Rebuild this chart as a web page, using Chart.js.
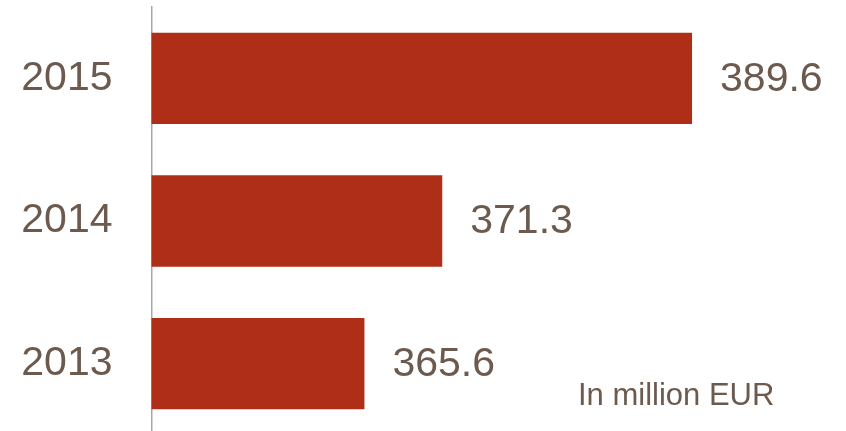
<!DOCTYPE html>
<html>
<head>
<meta charset="utf-8">
<script src="https://cdn.jsdelivr.net/npm/chart.js@4"></script>
<style>
  body { margin: 0; background: #fff; overflow: hidden; }
  /* plot runs slightly past the bottom edge, like the original */
  #wrap { width: 846px; height: 435px; position: relative; }
</style>
</head>
<body>
<div id="wrap"><canvas id="revChart"></canvas></div>
<script>
// revenue per year, top to bottom as in the picture
const years = ['2015', '2014', '2013'];
const revenue = [389.6, 371.3, 365.6];
const unitNote = 'In million EUR';

const textColor = '#6b5a4d';
const fontFamily = '"Liberation Sans", Arial, sans-serif';

// value labels next to each bar + the unit note
const valueLabels = {
  id: 'valueLabels',
  afterDatasetsDraw(chart) {
    const ctx = chart.ctx;
    const meta = chart.getDatasetMeta(0);
    ctx.save();
    ctx.fillStyle = textColor;
    ctx.font = '41px ' + fontFamily;
    ctx.textAlign = 'left';
    ctx.textBaseline = 'middle';
    meta.data.forEach((bar, i) => {
      ctx.fillText(revenue[i].toFixed(1), bar.x + 28, bar.y + 1);
    });
    ctx.font = '31px ' + fontFamily;
    ctx.textBaseline = 'alphabetic';
    ctx.fillText(unitNote, 578, 405);
    ctx.restore();
  }
};

const ctx = document.getElementById('revChart').getContext('2d');

new Chart(ctx, {
  type: 'bar',
  data: {
    labels: years,
    datasets: [{
      data: revenue,
      backgroundColor: '#ae2e18',
      borderWidth: 0,
      barPercentage: 0.64,
      categoryPercentage: 1
    }]
  },
  options: {
    indexAxis: 'y',
    responsive: true,
    maintainAspectRatio: false,
    animation: false,
    layout: { padding: { top: 7, right: 12, bottom: 0, left: 0 } },
    plugins: {
      legend: { display: false },
      tooltip: { enabled: false }
    },
    scales: {
      x: {
        display: false,
        min: 350,
        max: 400
      },
      y: {
        grid: { display: false, drawTicks: false },
        border: { display: true, color: '#a8a8a8', width: 1.5 },
        ticks: {
          color: textColor,
          font: { size: 41, family: fontFamily },
          padding: 39
        },
        afterFit(scale) {
          scale.width = 151.5;
          // big labels would otherwise shrink the plot vertically
          scale.paddingTop = 0;
          scale.paddingBottom = 0;
        }
      }
    }
  },
  plugins: [valueLabels]
});
</script>
</body>
</html>
